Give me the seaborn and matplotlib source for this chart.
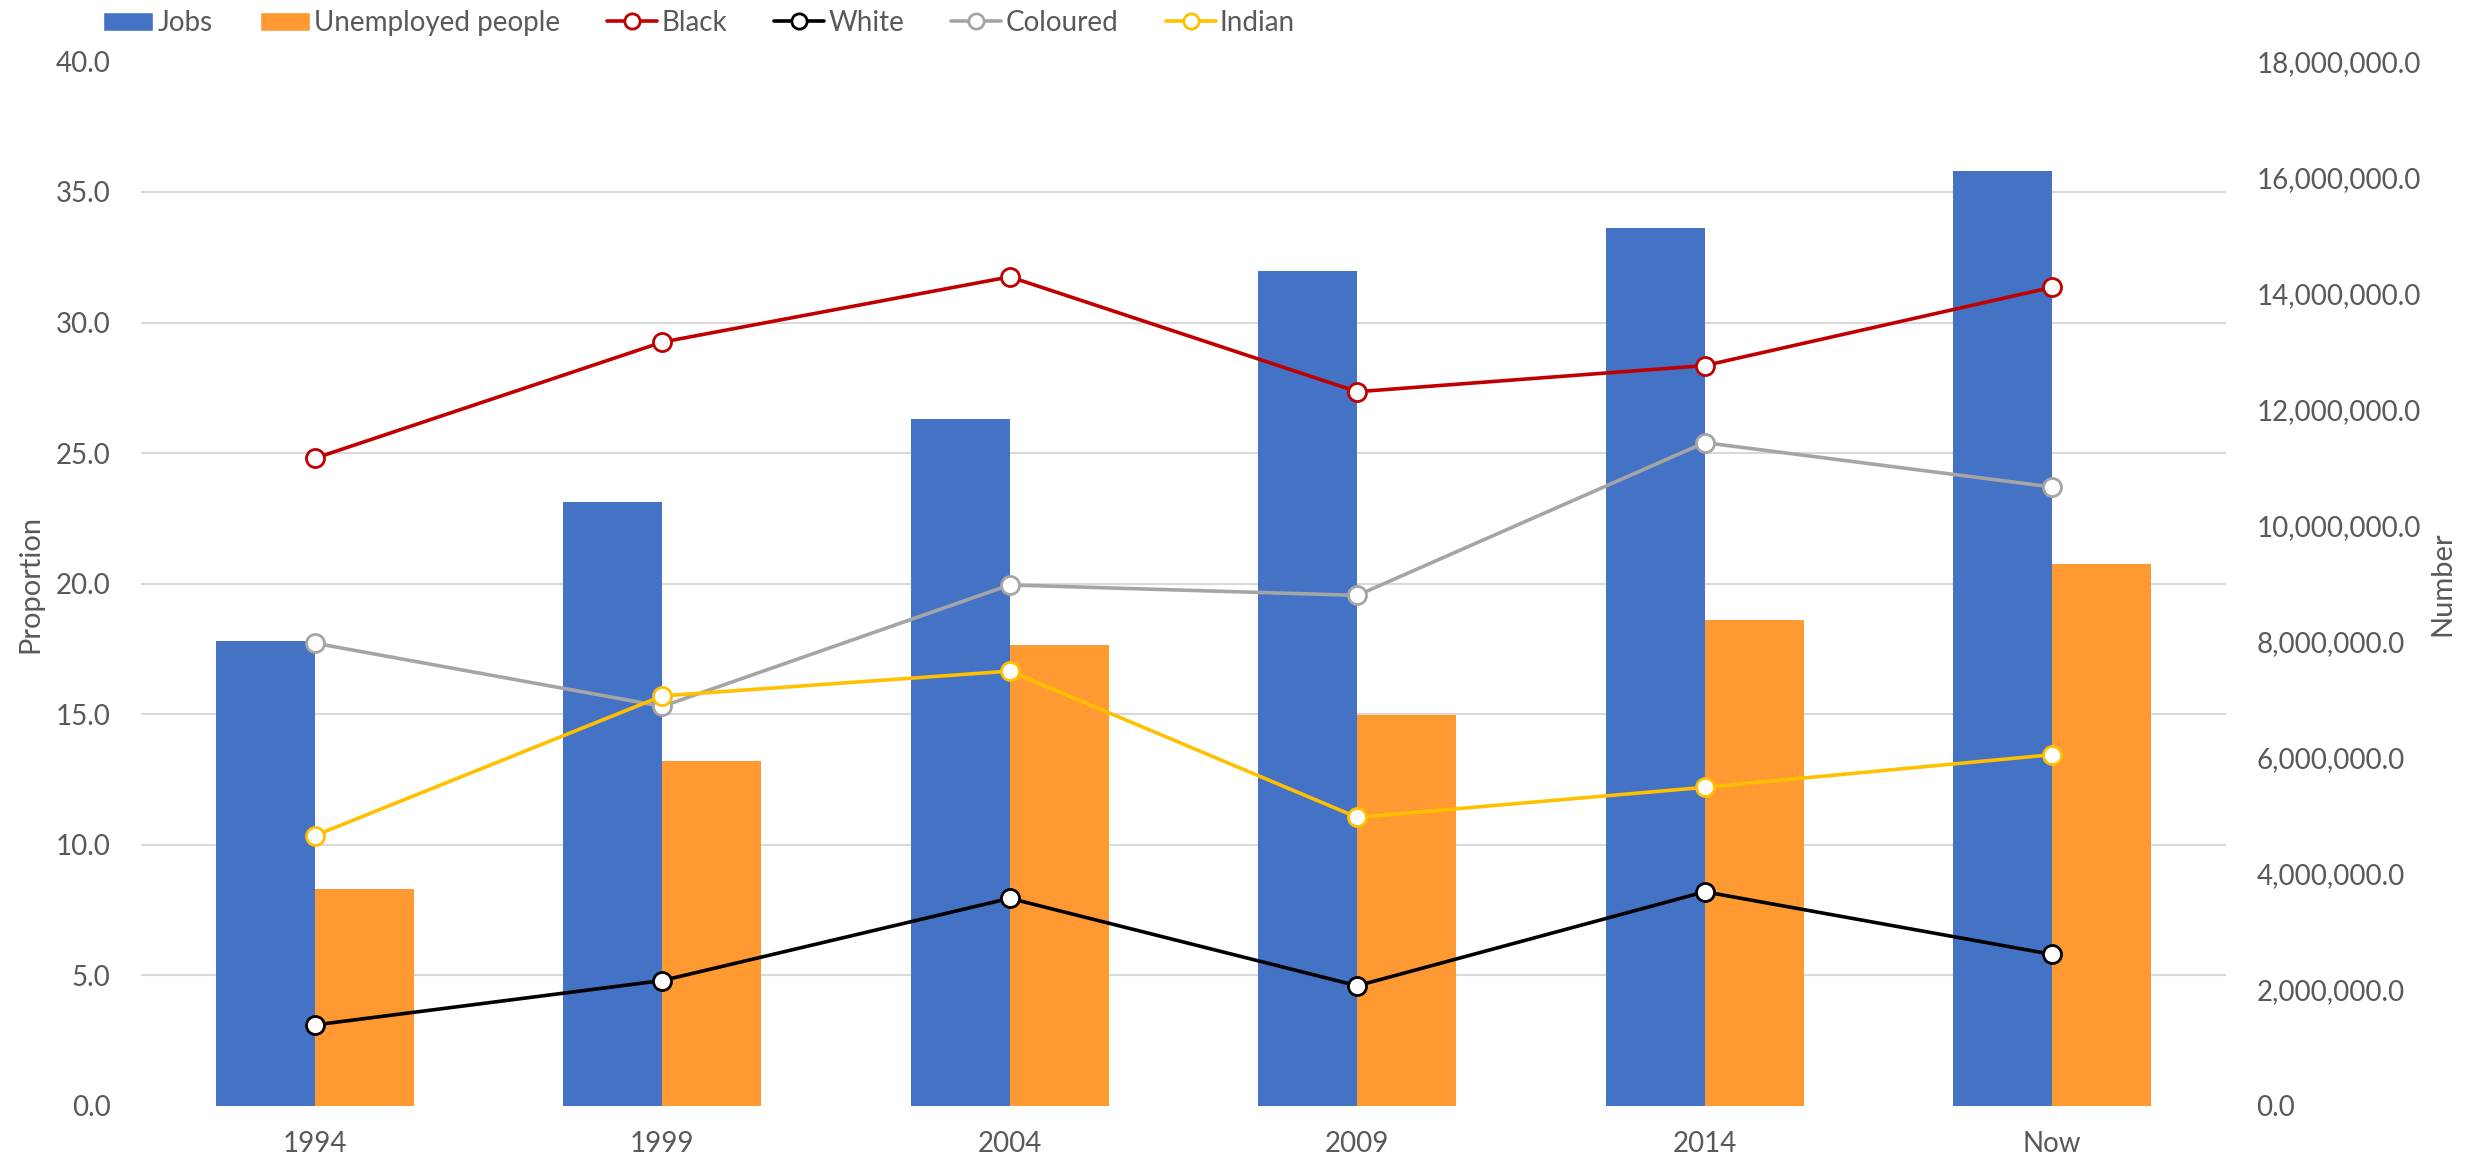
import numpy as np
import pandas as pd
import matplotlib
matplotlib.use('Agg')
import matplotlib.pyplot as plt
import seaborn as sns
from matplotlib.ticker import MultipleLocator, FuncFormatter, NullFormatter
from matplotlib.lines import Line2D
from matplotlib.patches import Patch

# ========== data ==========
periods = ['1994', '1999', '2004', '2009', '2014', 'Now']
jobs = [8020000, 10400000, 11830000, 14380000, 15120000, 16110000]
unemployed = [3740000, 5940000, 7940000, 6730000, 8380000, 9340000]
black = [24.8, 29.25, 31.75, 27.35, 28.35, 31.35]
white = [3.1, 4.8, 7.95, 4.6, 8.2, 5.8]
coloured = [17.72, 15.3, 19.95, 19.55, 25.4, 23.7]
indian = [10.35, 15.7, 16.65, 11.05, 12.2, 13.45]

bar_names = ['Jobs', 'Unemployed people']
bar_colors = ['#4472C4', '#FF9A33']
line_names = ['Black', 'White', 'Coloured', 'Indian']
line_colors = ['#C00000', '#000000', '#A5A5A5', '#FFC000']
TXT = '#595959'
FS = 20

# axis ranges
NUM_MAX, NUM_STEP = 18e6, 2e6
PROP_MAX, PROP_STEP = 40, 5

bars_df = pd.DataFrame({
    'period': periods * 2,
    'series': [bar_names[0]] * len(periods) + [bar_names[1]] * len(periods),
    'value': jobs + unemployed,
})
pos = np.arange(len(periods))
lines_df = pd.concat([
    pd.DataFrame({'pos': pos, 'group': name, 'value': vals})
    for name, vals in zip(line_names, [black, white, coloured, indian])
])

sns.set_theme(style='white')
plt.rcParams['font.family'] = ['Lato', 'DejaVu Sans']

fig = plt.figure(figsize=(24.76, 11.58), dpi=100)
ax = fig.add_axes([0.057, 0.045, 0.842, 0.902])

# bars -> right axis scale (Number)
sns.barplot(data=bars_df, x='period', y='value', hue='series', order=periods,
            hue_order=bar_names, palette=bar_colors, width=0.57, saturation=1,
            linewidth=0, ax=ax, legend=False)
ax.set_xlabel('')

# lines -> left axis scale (Proportion)
ax2 = ax.twinx()
sns.lineplot(data=lines_df, x='pos', y='value', hue='group', hue_order=line_names,
             palette=line_colors, marker='o', markersize=13, markeredgewidth=2,
             markerfacecolor='white', lw=2.6, sort=False, ax=ax2, legend=False)
for ln in ax2.lines:
    ln.set_markeredgecolor(ln.get_color())

# right axis (Number) -- belongs to bar axes
ax.set_ylim(0, NUM_MAX)
ax.yaxis.set_major_locator(MultipleLocator(NUM_STEP))
ax.yaxis.set_major_formatter(FuncFormatter(lambda v, p: f'{v:,.1f}'))
# gridlines follow the Proportion ticks but sit behind the bars
ax.yaxis.set_minor_locator(MultipleLocator(NUM_MAX * PROP_STEP / PROP_MAX))
ax.yaxis.set_minor_formatter(NullFormatter())
ax.yaxis.tick_right()
ax.yaxis.set_label_position('right')
ax.set_ylabel('Number', fontsize=21, color=TXT, labelpad=6)
ax.grid(False)
ax.grid(axis='y', which='minor', color='#D9D9D9', lw=1.5)
ax.set_axisbelow(True)
for s in ax.spines.values():
    s.set_visible(False)
ax.tick_params(axis='y', which='both', labelsize=FS, colors=TXT, length=0, pad=22)
ax.tick_params(axis='x', labelsize=FS, colors=TXT, length=0, pad=18)

ax2.set_ylim(0, PROP_MAX)
ax2.yaxis.set_major_locator(MultipleLocator(PROP_STEP))
ax2.yaxis.set_major_formatter(FuncFormatter(lambda v, p: f'{v:.1f}'))
ax2.yaxis.tick_left()
ax2.yaxis.set_label_position('left')
ax2.set_ylabel('Proportion', fontsize=21, color=TXT, labelpad=9)
ax2.set_xlabel('')
ax2.grid(False)
for s in ax2.spines.values():
    s.set_visible(False)
ax2.tick_params(axis='y', labelsize=FS, colors=TXT, length=0, pad=22)
ax.set_xlim(-0.5, len(periods) - 0.5)

# legend
handles = [Patch(facecolor=c) for c in bar_colors]
handles += [Line2D([], [], color=c, marker='o', mfc='white', mec=c, ms=11, mew=2, lw=2.6)
            for c in line_colors]
fig.legend(handles, bar_names + line_names, loc='center left',
           bbox_to_anchor=(0.036, 0.98), ncol=6, frameon=False, fontsize=FS,
           handlelength=1.8, handletextpad=0.15, columnspacing=1.7,
           borderpad=0, labelcolor=TXT)

plt.savefig('out.png', dpi=100)
